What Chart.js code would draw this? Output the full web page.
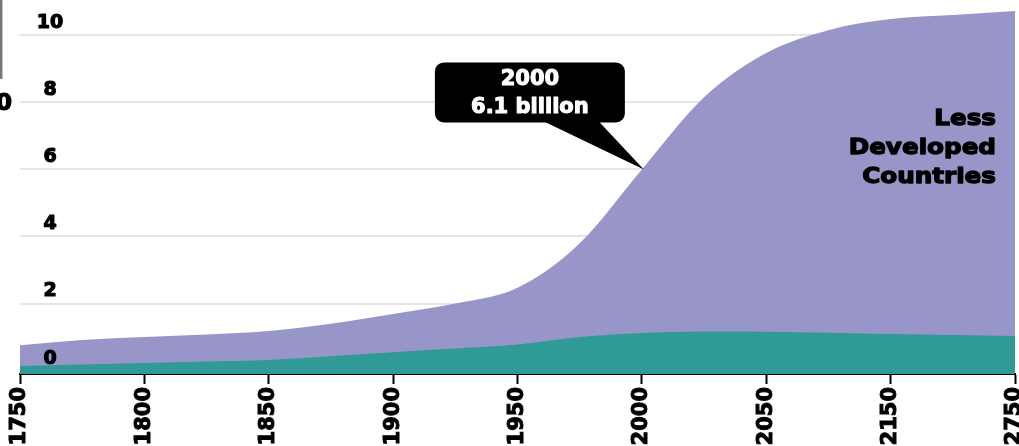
<!DOCTYPE html>
<html lang="en">
<head>
    <meta charset="UTF-8">
    <title>World population: more and less developed countries</title>
    <script src="https://cdn.jsdelivr.net/npm/chart.js"></script>
    <style>
      html, body {
        margin: 0;
        padding: 0;
        background: white;
      }
      .wrap {
        position: relative;
        width: 1019px;
        height: 446px;
      }
    </style>
</head>
<body>
  <div class="wrap">
    <canvas id="popChart"></canvas>
  </div>

  <script>
    // categories: half steps between the labelled years, so spacing stays even
    const years = [1750, 1775, 1800, 1825, 1850, 1875, 1900, 1925, 1950, 1975, 2000, 2025, 2050, 2100, 2150, 2450, 2750];
    const tickYears = [1750, 1800, 1850, 1900, 1950, 2000, 2050, 2150, 2750];

    // billions
    const developed = [0.14, 0.18, 0.23, 0.27, 0.32, 0.43, 0.55, 0.66, 0.78, 1.00, 1.12, 1.17, 1.16, 1.13, 1.09, 1.06, 1.03];
    const world     = [0.76, 0.91, 1.00, 1.08, 1.18, 1.40, 1.69, 2.00, 2.47, 3.80, 6.00, 8.15, 9.47, 10.15, 10.48, 10.60, 10.72];

    const yTicks = [0, 2, 4, 6, 8, 10];
    const calloutYear = 2000;
    const calloutText = ['2000', '6.1 billion'];
    const regionText = ['Less', 'Developed', 'Countries'];

    const boldFont = size => 'bold ' + size + 'px "DejaVu Sans"';

    // heavy text: fill plus a thin stroke of the same colour
    function heavyText(ctx, t, x, y, color, w) {
      ctx.fillStyle = color;
      ctx.strokeStyle = color;
      ctx.lineWidth = w;
      ctx.lineJoin = 'round';
      ctx.strokeText(t, x, y);
      ctx.fillText(t, x, y);
    }

    // texts drawn on top: y tick labels, callout, region label
    const overlay = {
      id: 'overlay',
      afterDatasetsDraw(chart) {
        const ctx = chart.ctx;
        const area = chart.chartArea;
        const x = chart.scales.x;
        const y = chart.scales.y;
        ctx.save();

        // y labels, centred, sitting above their grid line
        ctx.font = boldFont(19);
        ctx.textAlign = 'center';
        ctx.textBaseline = 'middle';
        yTicks.forEach(v => {
          heavyText(ctx, String(v), area.left + 30, y.getPixelForValue(v) - 12, '#000', 1.2);
        });

        // callout pointing at the 2000 value
        const i = years.indexOf(calloutYear);
        const tx = x.getPixelForValue(i) + 2;
        const ty = y.getPixelForValue(world[i]);
        const bl = tx - 209, br = tx - 19, bt = ty - 107, bb = ty - 47;
        ctx.fillStyle = '#000';
        ctx.beginPath();
        ctx.roundRect(bl, bt, br - bl, bb - bt, 9);
        ctx.fill();
        ctx.beginPath();
        ctx.moveTo(tx - 102, bb - 2);
        ctx.lineTo(tx - 46, bb - 2);
        ctx.lineTo(tx, ty);
        ctx.closePath();
        ctx.fill();
        ctx.font = boldFont(21);
        heavyText(ctx, calloutText[0], (bl + br) / 2, bt + 17, '#fff', 1.1);
        heavyText(ctx, calloutText[1], (bl + br) / 2, bt + 45, '#fff', 1.1);

        // region label, right aligned and a little wide
        ctx.font = boldFont(22);
        ctx.textAlign = 'right';
        ctx.save();
        ctx.scale(1.12, 1);
        regionText.forEach((t, k) => {
          heavyText(ctx, t, (area.right - 19) / 1.12, 119 + k * 29, '#000', 1.3);
        });
        ctx.restore();

        // bits of the neighbouring figure cut off at the left edge
        ctx.strokeStyle = '#777';
        ctx.lineWidth = 2.5;
        ctx.beginPath();
        ctx.moveTo(1.2, 0);
        ctx.lineTo(1.2, 79);
        ctx.stroke();
        ctx.font = boldFont(23);
        ctx.textAlign = 'right';
        heavyText(ctx, '0', 12, 104, '#000', 1.2);

        ctx.restore();
      }
    };

    const ctx = document.getElementById('popChart').getContext('2d');
    new Chart(ctx, {
      type: 'line',
      data: {
        labels: years.map(String),
        datasets: [
          {
            label: 'More Developed Countries',
            data: developed,
            backgroundColor: '#2f9a96',
            borderWidth: 0,
            pointRadius: 0,
            fill: 'start',
            cubicInterpolationMode: 'monotone'
          },
          {
            label: 'World',
            data: world,
            backgroundColor: '#9896c8',
            borderWidth: 0,
            pointRadius: 0,
            fill: 'start',
            cubicInterpolationMode: 'monotone'
          }
        ]
      },
      options: {
        responsive: true,
        maintainAspectRatio: false,
        animation: false,
        layout: { padding: 0 },
        plugins: {
          legend: { display: false },
          tooltip: { enabled: false }
        },
        scales: {
          x: {
            type: 'category',
            offset: false,
            grid: {
              drawOnChartArea: false,
              drawTicks: true,
              tickLength: 10,
              tickWidth: 2,
              tickColor: c => tickYears.includes(years[c.index]) ? '#000' : 'rgba(0,0,0,0)'
            },
            border: { display: true, color: '#000', width: 2 },
            ticks: {
              autoSkip: false,
              maxRotation: 90,
              minRotation: 90,
              padding: 3,
              color: '#000',
              textStrokeColor: '#000',
              textStrokeWidth: 1,
              font: { family: 'DejaVu Sans', weight: 'bold', size: 21 },
              callback: (v, i) => tickYears.includes(years[i]) ? String(years[i]) : ''
            },
            afterFit: s => {
              s.height = 72;
              s.paddingLeft = 0;
              s.paddingRight = 4;
            }
          },
          y: {
            min: -0.1,
            max: 11.05,
            afterBuildTicks: s => {
              s.ticks = yTicks.map(v => ({ value: v }));
            },
            grid: {
              color: c => c.tick && c.tick.value > 0 ? '#e6e6e6' : 'rgba(0,0,0,0)',
              lineWidth: 2,
              drawTicks: false
            },
            border: { display: false },
            ticks: { display: false },
            afterFit: s => {
              s.width = 20;
            }
          }
        }
      },
      plugins: [overlay]
    });
  </script>
</body>
</html>
